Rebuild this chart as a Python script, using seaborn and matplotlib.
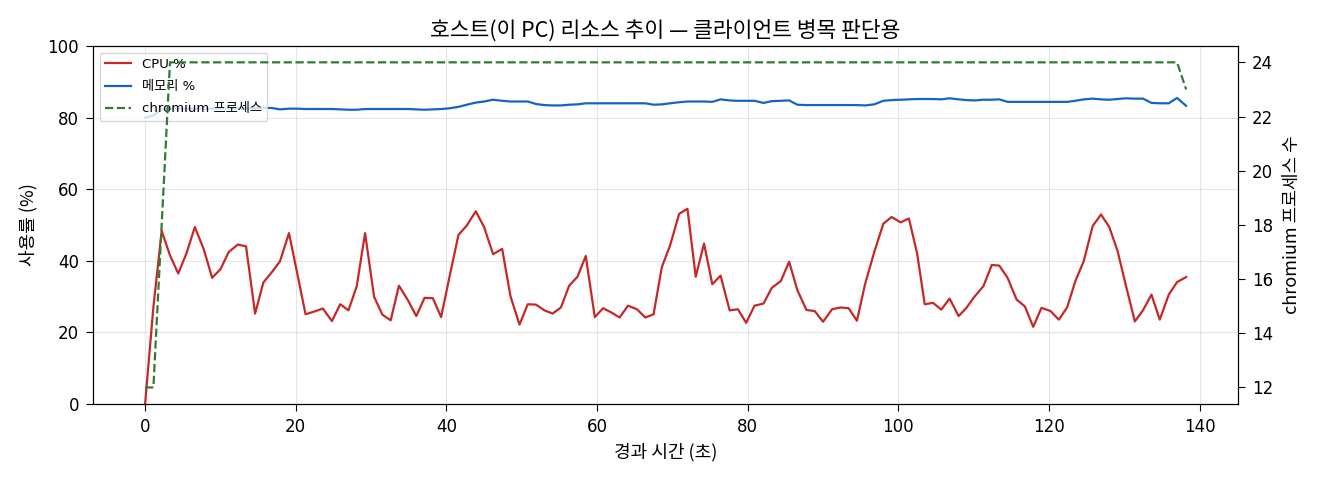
import matplotlib
matplotlib.use("Agg")
import matplotlib.pyplot as plt
import seaborn as sns
import pandas as pd

# ---- data ----
elapsed_sec = [
    0.0, 1.1, 2.2, 3.3, 4.4, 5.5, 6.6, 7.8, 8.9, 10.0,
    11.1, 12.3, 13.4, 14.6, 15.7, 16.8, 17.9, 19.1, 20.2, 21.3,
    22.5, 23.6, 24.8, 25.9, 27.0, 28.1, 29.2, 30.4, 31.5, 32.6,
    33.7, 34.9, 36.0, 37.1, 38.2, 39.3, 40.4, 41.6, 42.7, 43.9,
    45.0,
    46.2, 47.4, 48.5, 49.7, 50.8, 51.9, 53.0, 54.1, 55.2, 56.3,
    57.4, 58.5, 59.7, 60.8, 61.9, 63.0, 64.1, 65.3, 66.4, 67.5,
    68.6, 69.7, 70.9, 72.0, 73.1, 74.2, 75.3, 76.4, 77.6, 78.7,
    79.8, 80.9, 82.1, 83.2, 84.4, 85.5, 86.6, 87.8, 88.9, 90.0,
    91.2, 92.3, 93.4, 94.5, 95.6, 96.8,
    98.0, 99.1, 100.3, 101.4, 102.5, 103.5, 104.6, 105.7, 106.8, 108.0,
    109.0, 110.1, 111.3, 112.4, 113.4, 114.5, 115.7, 116.8, 117.9, 119.0,
    120.2, 121.3, 122.4, 123.5, 124.6, 125.8, 126.9, 128.0, 129.1, 130.2,
    131.4, 132.5, 133.6, 134.7, 135.9, 137.0, 138.2,
]

cpu_pct = [
    0.0, 27.0, 48.3, 41.5, 36.4, 42.1, 49.4, 43.1, 35.2, 37.6,
    42.4, 44.5, 44.0, 25.2, 33.9, 36.7, 39.8, 47.7, 36.4, 25.0,
    25.8, 26.6, 23.1, 27.8, 26.1, 32.9, 47.7, 29.9, 24.9, 23.3,
    33.0, 28.9, 24.5, 29.6, 29.5, 24.2, 35.4, 47.2, 49.8, 53.8,
    49.4,
    41.8, 43.3, 30.1, 22.1, 27.8, 27.7, 26.1, 25.2, 26.9, 33.0,
    35.5, 41.3, 24.2, 26.7, 25.5, 24.1, 27.4, 26.4, 24.1, 25.0,
    38.2, 44.3, 53.1, 54.5, 35.5, 44.8, 33.4, 35.8, 26.1, 26.4,
    22.6, 27.4, 28.0, 32.4, 34.3, 39.7, 31.7, 26.2, 25.9, 22.9,
    26.4, 26.9, 26.7, 23.2, 33.6, 42.4,
    50.3, 52.2, 50.7, 51.8, 41.9, 27.8, 28.2, 26.3, 29.4, 24.5,
    26.7, 29.9, 32.9, 38.8, 38.6, 35.2, 29.1, 27.2, 21.5, 26.8,
    25.9, 23.5, 26.9, 34.3, 39.8, 49.7, 52.9, 49.4, 42.7, 33.1,
    23.0, 26.2, 30.5, 23.5, 30.5, 34.0, 35.4,
]

mem_pct = [
    80.0, 80.6, 82.3, 82.5, 82.5, 82.5, 82.5, 82.5, 82.5, 82.6,
    82.6, 82.6, 82.6, 82.6, 82.7, 82.7, 82.3, 82.5, 82.5, 82.4,
    82.4, 82.4, 82.4, 82.3, 82.2, 82.2, 82.4, 82.4, 82.4, 82.4,
    82.4, 82.4, 82.3, 82.2, 82.3, 82.4, 82.6, 83.0, 83.6, 84.2,
    84.5,
    85.0, 84.7, 84.5, 84.5, 84.5, 83.8, 83.5, 83.4, 83.4, 83.6,
    83.7, 84.0, 84.0, 84.0, 84.0, 84.0, 84.0, 84.0, 84.0, 83.6,
    83.7, 84.0, 84.3, 84.5, 84.5, 84.5, 84.4, 85.1, 84.8, 84.7,
    84.7, 84.7, 84.1, 84.6, 84.7, 84.8, 83.6, 83.5, 83.5, 83.5,
    83.5, 83.5, 83.5, 83.5, 83.4, 83.7,
    84.7, 84.9, 85.0, 85.1, 85.2, 85.2, 85.2, 85.1, 85.4, 85.1,
    84.9, 84.8, 85.0, 85.0, 85.1, 84.4, 84.4, 84.4, 84.4, 84.4,
    84.4, 84.4, 84.4, 84.7, 85.1, 85.3, 85.1, 85.0, 85.2, 85.4,
    85.3, 85.3, 84.1, 84.0, 84.0, 85.5, 83.3,
]

chromium_procs = [12, 12, 18] + [24] * 120 + [23]

series_labels = ["CPU %", "메모리 %", "chromium 프로세스"]
title_text = "호스트(이 PC) 리소스 추이 — 클라이언트 병목 판단용"
x_label = "경과 시간 (초)"
y_label = "사용률 (%)"
y2_label = "chromium 프로세스 수"

# ---- plot ----
plt.rcParams["font.family"] = ["DejaVu Sans", "Noto Sans CJK KR"]
plt.rcParams["axes.unicode_minus"] = False
kr = ["Noto Sans CJK KR", "DejaVu Sans"]

df = pd.DataFrame({"t": elapsed_sec, "cpu": cpu_pct, "mem": mem_pct, "chrom": chromium_procs})

fig = plt.figure(figsize=(13.2, 4.8), dpi=100)
ax = fig.add_axes([0.0705, 0.159, 0.8675, 0.745])

sns.lineplot(data=df, x="t", y="cpu", ax=ax, color="#c62828", linewidth=1.6, label=series_labels[0], legend=False)
sns.lineplot(data=df, x="t", y="mem", ax=ax, color="#1565c0", linewidth=1.6, label=series_labels[1], legend=False)
ax.set_ylim(0, 100)
ax.grid(True, color="#cccccc", alpha=0.5, linewidth=0.8)
ax.set_xlabel(x_label, fontsize=13, family=kr, labelpad=5)
ax.set_ylabel(y_label, fontsize=13, family=kr, labelpad=7)
ax.set_title(title_text, fontsize=15.5, family=kr, pad=7)
ax.tick_params(labelsize=12, length=5, pad=5)

ax2 = ax.twinx()
sns.lineplot(data=df, x="t", y="chrom", ax=ax2, color="#2e7d32", linewidth=1.6, linestyle="--",
             label=series_labels[2], legend=False)
ax2.set_ylabel(y2_label, fontsize=13, family=kr, labelpad=7)
ax2.tick_params(labelsize=12, length=5, pad=5)

h1, l1 = ax.get_legend_handles_labels()
h2, l2 = ax2.get_legend_handles_labels()
ax.legend(h1 + h2, l1 + l2, loc="upper left", fontsize=9.5, labelspacing=0.7)

fig.savefig("out.png", dpi=100)
